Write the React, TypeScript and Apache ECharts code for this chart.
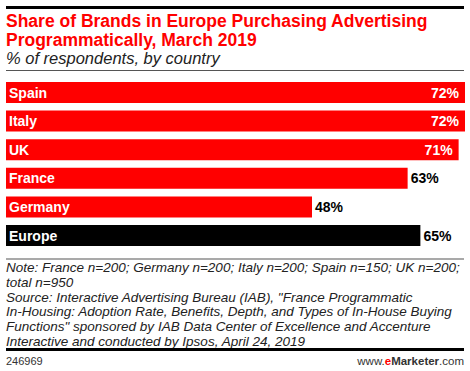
import React, { useEffect, useRef } from "react";
import * as echarts from "echarts";

const categories = ["Spain", "Italy", "UK", "France", "Germany", "Europe"];
const values = [72, 72, 71, 63, 48, 65];
const insideLabel = [true, true, true, false, false, false];
const barColors = ["#ff0000", "#ff0000", "#ff0000", "#ff0000", "#ff0000", "#000000"];

const titleLines = [
  "Share of Brands in Europe Purchasing Advertising",
  "Programmatically, March 2019",
];
const subtitle = "% of respondents, by country";
const noteLines = [
  "Note: France n=200; Germany n=200; Italy n=200; Spain n=150; UK n=200;",
  "total n=950",
  "Source: Interactive Advertising Bureau (IAB), \"France Programmatic",
  "In-Housing: Adoption Rate, Benefits, Depth, and Types of In-House Buying",
  "Functions\" sponsored by IAB Data Center of Excellence and Accenture",
  "Interactive and conducted by Ipsos, April 24, 2019",
];
const chartId = "246969";

const FONT = "'Liberation Sans', Arial, sans-serif";

export default function App() {
  const ref = useRef<HTMLDivElement>(null);
  useEffect(() => {
    if (!ref.current) return;
    const chart = echarts.init(ref.current, null, { renderer: "svg" });
    const nameData = values.map((v, i) => ({
      value: v,
      itemStyle: { color: barColors[i] },
    }));
    const valueData = values.map((v, i) => ({
      value: v,
      label: insideLabel[i]
        ? { position: "insideRight", color: "#ffffff", distance: 6 }
        : { position: "right", color: "#000000", distance: 3 },
    }));
    chart.setOption({
      animation: false,
      grid: { left: 6, top: 78.2, width: 459, height: 171.6, containLabel: false },
      xAxis: {
        type: "value",
        min: 0,
        max: 72,
        show: false,
      },
      yAxis: {
        type: "category",
        data: categories,
        inverse: true,
        show: false,
      },
      series: [
        {
          type: "bar",
          data: nameData,
          barWidth: 21,
          label: {
            show: true,
            position: "insideLeft",
            distance: 3,
            formatter: "{b}",
            color: "#ffffff",
            fontFamily: FONT,
            fontWeight: "bold",
            fontSize: 14,
          },
        },
        {
          type: "bar",
          data: valueData,
          barWidth: 21,
          barGap: "-100%",
          itemStyle: { color: "rgba(0,0,0,0)" },
          label: {
            show: true,
            formatter: "{c}%",
            fontFamily: FONT,
            fontWeight: "bold",
            fontSize: 14,
          },
        },
      ],
      graphic: [
        { type: "rect", shape: { x: 6, y: 6, width: 458, height: 3 }, style: { fill: "#000" } },
        {
          type: "text",
          x: 6,
          y: 12,
          style: {
            text: titleLines.join("\n"),
            fill: "#ff0000",
            font: `bold 17.5px ${FONT}`,
            lineHeight: 18.5,
          },
        },
        {
          type: "text",
          x: 6,
          y: 49,
          style: {
            text: subtitle,
            fill: "#222",
            font: `italic 16.5px ${FONT}`,
          },
        },
        { type: "rect", shape: { x: 6, y: 70, width: 458, height: 1 }, style: { fill: "#555" } },
        { type: "rect", shape: { x: 6, y: 258.5, width: 458, height: 1 }, style: { fill: "#555" } },
        {
          type: "text",
          x: 6,
          y: 260,
          style: {
            text: noteLines.join("\n"),
            fill: "#222",
            font: `italic 13.5px ${FONT}`,
            lineHeight: 14.8,
          },
        },
        { type: "rect", shape: { x: 6, y: 348, width: 458, height: 3 }, style: { fill: "#000" } },
        {
          type: "text",
          x: 6,
          y: 355,
          style: { text: chartId, fill: "#333", font: `11px ${FONT}` },
        },
        {
          type: "text",
          x: 464,
          y: 355,
          style: {
            text: "{a|www.}{b|e}{c|Marketer}{a|.com}",
            align: "right",
            rich: {
              a: { fill: "#333", font: `11.5px ${FONT}` },
              b: { fill: "#ff0000", font: `bold 11.5px ${FONT}` },
              c: { fill: "#333", font: `bold 11.5px ${FONT}` },
            },
          },
        },
      ],
    });
    return () => chart.dispose();
  }, []);
  return <div ref={ref} style={{ width: 470, height: 371, position: "absolute", left: 0, top: 0 }} />;
}
